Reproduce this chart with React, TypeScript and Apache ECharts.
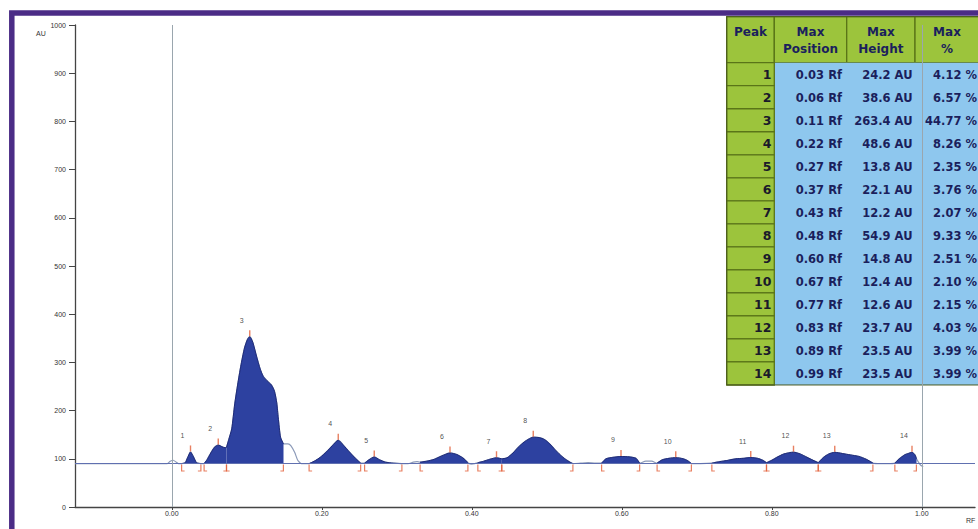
import React, { useEffect, useRef } from "react";
import * as echarts from "echarts";

// ---- data ----
const BASELINE = 90;
const X_MIN = -0.129;
const X_MAX = 1.071;
const xTickValues = [0, 0.2, 0.4, 0.6, 0.8, 1.0];

const peakIds = [1, 2, 3, 4, 5, 6, 7, 8, 9, 10, 11, 12, 13, 14];
const peakRf = [0.03, 0.06, 0.11, 0.22, 0.27, 0.37, 0.43, 0.48, 0.6, 0.67, 0.77, 0.83, 0.89, 0.99];
const peakHeightAU = [24.2, 38.6, 263.4, 48.6, 13.8, 22.1, 12.2, 54.9, 14.8, 12.4, 12.6, 23.7, 23.5, 23.5];
const peakPct = [4.12, 6.57, 44.77, 8.26, 2.35, 3.76, 2.07, 9.33, 2.51, 2.1, 2.15, 4.03, 3.99, 3.99];
const peakApexRf = [0.025, 0.062, 0.104, 0.222, 0.27, 0.371, 0.433, 0.482, 0.599, 0.672, 0.772, 0.829, 0.884, 0.987];
const peakStartRf = [0.013, 0.043, 0.073, 0.183, 0.257, 0.331, 0.408, 0.44, 0.573, 0.647, 0.72, 0.793, 0.862, 0.964];
const peakEndRf = [0.039, 0.073, 0.149, 0.252, 0.307, 0.395, 0.44, 0.535, 0.624, 0.693, 0.793, 0.862, 0.935, 0.993];

// densitogram trace [Rf, AU]
const curve: [number, number][] = [
  [-0.129, 90], [-0.006, 90], [-0.002, 95], [0.002, 97], [0.006, 93], [0.009, 90],
  [0.013, 90], [0.018, 92], [0.021, 102], [0.025, 114.2], [0.029, 104], [0.033, 92], [0.039, 90],
  [0.043, 90], [0.047, 98], [0.052, 112], [0.057, 124], [0.062, 128.6], [0.067, 125], [0.071, 123],
  [0.073, 124], [0.076, 140], [0.08, 162], [0.084, 214], [0.088, 255], [0.092, 292], [0.097, 330],
  [0.101, 348], [0.104, 353.4], [0.108, 342], [0.113, 313], [0.118, 286], [0.122, 271], [0.127, 262],
  [0.133, 253], [0.137, 240], [0.14, 216], [0.142, 185], [0.145, 145], [0.149, 131],
  [0.155, 131], [0.159, 127], [0.164, 113], [0.168, 97], [0.173, 90],
  [0.183, 90], [0.19, 95], [0.198, 103], [0.206, 114], [0.214, 127], [0.222, 138.6], [0.229, 128],
  [0.237, 114], [0.245, 101], [0.252, 91],
  [0.257, 91], [0.263, 98], [0.27, 103.8], [0.277, 98], [0.285, 93], [0.295, 91], [0.307, 90],
  [0.315, 90], [0.322, 93], [0.327, 94],
  [0.331, 93], [0.34, 95], [0.35, 99], [0.36, 106], [0.371, 112.1], [0.38, 109], [0.388, 102], [0.395, 92],
  [0.4, 89], [0.404, 90],
  [0.408, 92], [0.416, 95], [0.424, 99], [0.433, 102.2], [0.44, 100],
  [0.447, 102], [0.455, 112], [0.462, 124], [0.47, 135], [0.476, 141], [0.482, 144.9], [0.49, 144],
  [0.497, 140], [0.504, 131], [0.511, 119], [0.518, 108], [0.525, 99], [0.531, 93], [0.535, 90],
  [0.545, 91], [0.555, 92], [0.565, 91],
  [0.573, 91], [0.579, 100], [0.588, 103], [0.599, 104.8], [0.61, 104], [0.619, 101], [0.624, 91],
  [0.632, 95], [0.64, 95],
  [0.647, 91], [0.654, 98], [0.663, 101], [0.672, 102.4], [0.682, 100], [0.688, 96], [0.693, 90],
  [0.705, 90],
  [0.72, 91], [0.73, 94], [0.742, 97], [0.752, 100], [0.762, 101], [0.772, 102.6], [0.781, 101],
  [0.788, 97], [0.793, 92],
  [0.8, 97], [0.808, 104], [0.816, 110], [0.829, 113.7], [0.838, 110], [0.847, 103], [0.855, 97], [0.862, 92],
  [0.869, 103], [0.876, 110], [0.884, 113.5], [0.894, 111], [0.905, 108], [0.916, 105], [0.926, 99], [0.935, 91],
  [0.945, 90], [0.955, 90],
  [0.964, 91], [0.97, 100], [0.977, 108], [0.982, 111], [0.987, 113.5], [0.991, 108], [0.993, 100],
  [0.996, 92], [0.999, 86], [1.002, 84],
];

// ---- styles ----
const FILL = "#2d41a0";
const EDGE = "#1e2a78";
const RED = "#e2603a";
const NAVY = "#1b1f5c";
const GREEN = "#9cc43c";
const GREEN_EDGE = "#5a7418";
const BLUE = "#8ec7ee";
const TICK_FONT = "Liberation Sans";
const SMOOTH = 0.2;

function buildOption() {
  const peakSeries = peakIds.map((id, i) => ({
    type: "line",
    name: "peak" + id,
    data: curve.filter((p) => p[0] >= peakStartRf[i] - 1e-9 && p[0] <= peakEndRf[i] + 1e-9),
    symbol: "none",
    smooth: SMOOTH,
    z: 3,
    lineStyle: { color: EDGE, width: 1 },
    areaStyle: { color: FILL, opacity: 1, origin: BASELINE },
  }));

  const colX = [726.7, 774.3, 846.7, 915, 979];
  const headTop = 16.7;
  const headBot = 62.7;
  const rowH = 23.02;
  const tableEls: any[] = [];
  for (let c = 0; c < 4; c++) {
    tableEls.push({
      type: "rect",
      shape: { x: colX[c], y: headTop, width: colX[c + 1] - colX[c], height: headBot - headTop },
      style: { fill: GREEN, stroke: GREEN_EDGE, lineWidth: 1.3 },
    });
  }
  tableEls.push({
    type: "rect",
    shape: { x: colX[1], y: headBot, width: colX[4] - colX[1], height: rowH * peakIds.length },
    style: { fill: BLUE },
  });
  const headerFont = 'bold 12px "DejaVu Sans"';
  const dataFont = 'bold 11.5px "DejaVu Sans"';
  const headers = [["Peak"], ["Max", "Position"], ["Max", "Height"], ["Max", "%"]];
  headers.forEach((lines, c) => {
    const cx = (colX[c] + colX[c + 1]) / 2;
    lines.forEach((t, li) => {
      tableEls.push({
        type: "text",
        x: cx,
        y: 32 + li * 16.5,
        style: { text: t, font: headerFont, fill: NAVY, align: "center", verticalAlign: "middle", textAlign: "center", textVerticalAlign: "middle" },
      });
    });
  });
  const rightX = [771.5, 842, 912.5, 977];
  peakIds.forEach((id, i) => {
    const y0 = headBot + i * rowH;
    tableEls.push({
      type: "rect",
      shape: { x: colX[0], y: y0, width: colX[1] - colX[0], height: rowH },
      style: { fill: GREEN, stroke: GREEN_EDGE, lineWidth: 1.3 },
    });
    const texts = [String(id), peakRf[i].toFixed(2) + " Rf", peakHeightAU[i].toFixed(1) + " AU", peakPct[i].toFixed(2) + " %"];
    texts.forEach((t, c) => {
      tableEls.push({
        type: "text",
        x: rightX[c],
        y: y0 + rowH / 2 + 0.5,
        style: {
          text: t,
          font: c === 0 ? 'bold 12.5px "DejaVu Sans"' : dataFont,
          fill: c === 0 ? "#1a1a2a" : NAVY,
          align: "right",
          verticalAlign: "middle",
          textAlign: "right",
          textVerticalAlign: "middle",
        },
      });
    });
  });
  tableEls.push({
    type: "rect",
    shape: { x: colX[0], y: headTop, width: colX[4] - colX[0], height: headBot - headTop + rowH * peakIds.length },
    style: { fill: "none", stroke: "#4a5a20", lineWidth: 1 },
  });

  return {
    animation: false,
    backgroundColor: "#ffffff",
    grid: { left: 75, right: 3, top: 25, bottom: 22 },
    xAxis: {
      type: "value",
      min: X_MIN,
      max: X_MAX,
      splitLine: { show: false },
      axisLine: { show: true, onZero: false, lineStyle: { color: "#444", width: 1.3 } },
      axisTick: { show: true, customValues: xTickValues, length: 3, lineStyle: { color: "#444" } },
      axisLabel: {
        customValues: xTickValues,
        formatter: (v: number) => v.toFixed(2),
        fontSize: 7,
        color: "#333",
        margin: 3,
        fontFamily: TICK_FONT,
      },
    },
    yAxis: {
      type: "value",
      min: 0,
      max: 1000,
      interval: 100,
      splitLine: { show: false },
      axisLine: { show: true, onZero: false, lineStyle: { color: "#444", width: 1.3 } },
      axisTick: { show: true, length: 6, lineStyle: { color: "#444" } },
      axisLabel: { fontSize: 7, color: "#333", margin: 9, fontFamily: TICK_FONT, formatter: (v: number) => String(v) },
    },
    series: [
      {
        type: "line",
        name: "trace",
        data: curve,
        symbol: "none",
        smooth: SMOOTH,
        z: 2,
        lineStyle: { color: "#8c9ab8", width: 1.2 },
        markLine: {
          symbol: "none",
          silent: true,
          label: { show: false },
          data: [
            { yAxis: BASELINE, lineStyle: { color: "#6070b0", width: 1, type: "solid" } },
            { xAxis: 0, lineStyle: { color: "#9aa6ae", width: 1, type: "solid" } },
            { xAxis: 1, lineStyle: { color: "#9aa6ae", width: 1, type: "solid" } },
          ],
        },
      },
      ...peakSeries,
      {
        type: "scatter",
        name: "apex",
        z: 5,
        data: peakApexRf.map((x, i) => [x, BASELINE + peakHeightAU[i]]),
        symbol: "rect",
        symbolSize: [1.4, 6],
        symbolOffset: [0, -3.5],
        itemStyle: { color: RED },
        label: {
          show: true,
          position: "inside",
          offset: [-8, -13],
          formatter: (p: any) => String(peakIds[p.dataIndex]),
          fontSize: 7,
          color: "#222",
          fontFamily: TICK_FONT,
        },
      },
      {
        type: "scatter",
        name: "start",
        z: 5,
        data: peakStartRf.map((x) => [x, BASELINE]),
        symbol: "path://M0,0 L1,0 L1,5 L3,5 L3,6 L0,6 Z",
        symbolSize: [3.6, 7],
        symbolOffset: [1.3, 4.5],
        itemStyle: { color: RED },
      },
      {
        type: "scatter",
        name: "end",
        z: 5,
        data: peakEndRf.map((x) => [x, BASELINE]),
        symbol: "path://M2,0 L3,0 L3,6 L0,6 L0,5 L2,5 Z",
        symbolSize: [3.6, 7],
        symbolOffset: [-1.3, 4.5],
        itemStyle: { color: RED },
      },
    ],
    graphic: [
      {
        type: "rect",
        z: 100,
        silent: true,
        shape: { x: 11.8, y: 13, width: 1000, height: 600 },
        style: { fill: "none", stroke: "#4b2c86", lineWidth: 5.5 },
      },
      {
        type: "text",
        x: 36,
        y: 33,
        style: { text: "AU", font: '7px "Liberation Sans"', fill: "#333", align: "left", verticalAlign: "middle", textAlign: "left", textVerticalAlign: "middle" },
      },
      {
        type: "text",
        x: 966,
        y: 520,
        style: { text: "RF", font: '7px "Liberation Sans"', fill: "#333", align: "left", verticalAlign: "middle", textAlign: "left", textVerticalAlign: "middle" },
      },
      { type: "group", z: 50, children: tableEls },
    ],
  };
}

export default function App() {
  const ref = useRef<HTMLDivElement>(null);
  useEffect(() => {
    if (!ref.current) return;
    const chart = echarts.init(ref.current, null, { renderer: "svg" });
    chart.setOption(buildOption() as any);
    return () => chart.dispose();
  }, []);
  return (
    <div
      ref={ref}
      style={{ position: "fixed", left: 0, top: 0, width: 978, height: 529, background: "#fff" }}
    />
  );
}
